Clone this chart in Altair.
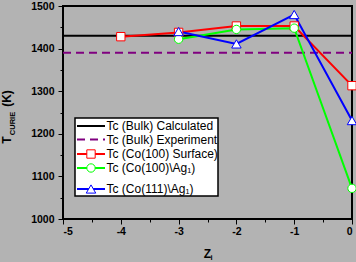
import altair as alt
import pandas as pd

# ---- data ----
bulk_z = [-5, 0]
bulk_calc = [1430, 1430]
bulk_exp = [1390, 1390]
surf_z = [-4, -3, -2, -1, 0]
surf_tc = [1428, 1438, 1453, 1453, 1313]
ag100_z = [-3, -2, -1, 0]
ag100_tc = [1422, 1445, 1448, 1072]
ag111_z = [-3, -2, -1, 0]
ag111_tc = [1440, 1411, 1480, 1231]

x_ticks = [-5, -4, -3, -2, -1, 0]
x_minor = [-4.5, -3.5, -2.5, -1.5, -0.5]
y_ticks = [1000, 1100, 1200, 1300, 1400, 1500]
y_minor = [1050, 1150, 1250, 1350, 1450]

legend_labels = [
    "Tc (Bulk) Calculated",
    "Tc (Bulk) Experiment",
    "Tc (Co(100) Surface)",
    "Tc (Co(100)\\Ag\u2081)",
    "Tc (Co(111)\\Ag\u2081)",
]

# ---- styles ----
BG = "#b3b3b3"
FONT = "Liberation Sans"
W, H = 289, 213

xs = alt.Scale(domain=[-5, 0], nice=False, zero=False)
ys = alt.Scale(domain=[1000, 1500], nice=False, zero=False)

ax_common = dict(title=None, grid=False, domain=False, labelFont=FONT,
                 labelFontSize=10.5, labelFontWeight="bold", labelColor="black",
                 tickColor="black", tickWidth=1)

x_main = alt.Axis(values=x_ticks, tickSize=5, labelPadding=2, orient="bottom",
                  labelExpr="'' + datum.value", **ax_common)
y_main = alt.Axis(values=y_ticks, tickSize=5, labelPadding=4, orient="left",
                  labelExpr="'' + datum.value", **ax_common)
x_min = alt.Axis(values=x_minor, tickSize=3, labels=False, orient="bottom",
                 title=None, grid=False, domain=False, tickColor="black", tickWidth=1)
y_min = alt.Axis(values=y_minor, tickSize=3, labels=False, orient="left",
                 title=None, grid=False, domain=False, tickColor="black", tickWidth=1)


def frame(z, t):
    return pd.DataFrame({"z": z, "tc": t})


def enc(xaxis=None, yaxis=None):
    return dict(x=alt.X("z:Q", scale=xs, axis=xaxis),
                y=alt.Y("tc:Q", scale=ys, axis=yaxis))


layers = []
# axes carriers
layers.append(alt.Chart(frame(surf_z, surf_tc)).mark_point(opacity=0)
              .encode(**enc(x_main, y_main)))
layers.append(alt.Chart(frame(surf_z, surf_tc)).mark_point(opacity=0)
              .encode(**enc(x_min, y_min)))

# bulk lines
layers.append(alt.Chart(frame(bulk_z, bulk_calc)).mark_line(color="black", strokeWidth=2)
              .encode(**enc()))
layers.append(alt.Chart(frame(bulk_z, bulk_exp)).mark_line(color="#800080", strokeWidth=2,
                                                           strokeDash=[8, 5])
              .encode(**enc()))

series = [
    (surf_z, surf_tc, "#ff0000", "square", 70),
    (ag100_z, ag100_tc, "#00ff00", "circle", 70),
    (ag111_z, ag111_tc, "#0000ff", "triangle-up", 90),
]
for z, t, col, shp, sz in series:
    layers.append(alt.Chart(frame(z, t)).mark_line(color=col, strokeWidth=2).encode(**enc()))
for z, t, col, shp, sz in series:
    layers.append(alt.Chart(frame(z, t)).mark_point(shape=shp, size=sz, filled=True,
                                                    fill="white", stroke=col, strokeWidth=1,
                                                    opacity=1)
                  .encode(**enc()))

# ---- legend (pixel layout relative to plot area) ----
one = pd.DataFrame({"a": [0]})
LX0, LX1, LY0, LY1 = 12, 155, 112, 190
layers.append(alt.Chart(one).mark_rect(fill="white", stroke="black", strokeWidth=1.5)
              .encode(x=alt.value(LX0), x2=alt.value(LX1), y=alt.value(LY0), y2=alt.value(LY1)))
row_y = [120, 133.5, 148, 162, 183]
row_col = ["black", "#800080", "#ff0000", "#00ff00", "#0000ff"]
row_shape = [None, None, "square", "circle", "triangle-up"]
row_size = [0, 0, 70, 70, 90]
for i, lab in enumerate(legend_labels):
    rule_kw = dict(color=row_col[i], strokeWidth=2)
    if i == 1:
        rule_kw["strokeDash"] = [8, 5]
    layers.append(alt.Chart(one).mark_rule(**rule_kw)
                  .encode(x=alt.value(14), x2=alt.value(42), y=alt.value(row_y[i])))
    if row_shape[i]:
        layers.append(alt.Chart(one).mark_point(shape=row_shape[i], size=row_size[i], filled=True,
                                                fill="white", stroke=row_col[i], strokeWidth=1,
                                                opacity=1)
                      .encode(x=alt.value(28), y=alt.value(row_y[i])))
    layers.append(alt.Chart(one).mark_text(text=lab, align="left", baseline="middle",
                                           font=FONT, fontSize=12, color="black")
                  .encode(x=alt.value(43.5), y=alt.value(row_y[i])))

# ---- axis titles ----
def txt(s, x, y, size, angle=0):
    kw = dict(text=s, align="center", baseline="middle", font=FONT, fontSize=size,
              fontWeight="bold", color="black")
    if angle:
        kw["angle"] = angle
    return alt.Chart(one).mark_text(**kw).encode(x=alt.value(x), y=alt.value(y))

layers.append(txt("T", -56, 134, 12, 270))
layers.append(txt("CURIE", -50.5, 117.5, 7.5, 270))
layers.append(txt("(K)", -56, 92.5, 12, 270))
layers.append(txt("Z", 144.5, 247.5, 12))
layers.append(txt("i", 148.5, 251.5, 7.5))

chart = (alt.layer(*layers)
         .resolve_axis(x="independent", y="independent")
         .properties(width=W, height=H, background=BG,
                     padding={"left": 63, "top": 6, "right": 4, "bottom": 43},
                     autosize=alt.AutoSizeParams(type="none"))
         .configure_view(stroke="black", strokeWidth=2, fill=BG))

chart.save("out.html", embed_options={"renderer": "svg", "actions": False})
